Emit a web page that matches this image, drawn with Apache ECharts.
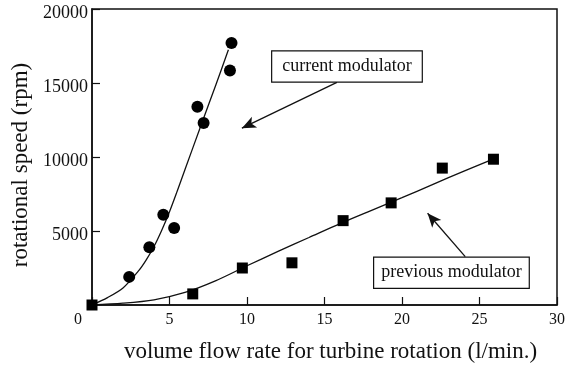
<!DOCTYPE html>
<html><head><meta charset="utf-8">
<script src="https://cdn.jsdelivr.net/npm/echarts@6/dist/echarts.min.js"></script>
<style>html,body{margin:0;padding:0;background:#fff}#c{width:568px;height:370px}</style>
</head><body><div id="c"></div>
<script>
// measured data
const currentX = [2.4, 3.7, 4.6, 5.3, 6.8, 7.2, 8.9, 9.0];
const currentY = [1900, 3900, 6100, 5200, 13400, 12300, 15850, 17700];
const previousX = [0, 6.5, 9.7, 12.9, 16.2, 19.3, 22.6, 25.9];
const previousY = [0, 750, 2500, 2850, 5700, 6900, 9250, 9850];
// fitted curves
const currentFitX = [0, 1, 2, 3, 3.5, 4, 4.5, 5, 5.5, 6, 7, 8, 8.8];
const currentFitY = [0, 500, 1150, 2300, 3050, 3950, 5050, 6300, 7700, 9150, 12050, 14900, 17250];
const previousFitX = [0, 2, 4, 6, 8, 10, 12, 14, 16, 18, 20, 22, 24, 25.8];
const previousFitY = [0, 120, 350, 850, 1650, 2650, 3620, 4560, 5500, 6380, 7250, 8150, 9050, 9820];
// annotations
const currentLabel = 'current modulator';
const previousLabel = 'previous modulator';
const currentLabelAt = [16.45, 16110];
const previousLabelAt = [23.19, 2180];
const currentArrow = [[15.8, 15040], [9.67, 11950]];
const previousArrow = [[24.08, 3270], [21.65, 6200]];

const FONT = '"Liberation Serif","Times New Roman",serif';
const INK = '#111';
const zip = (xs, ys) => xs.map((x, i) => [x, ys[i]]);

const chart = echarts.init(document.getElementById('c'), null, {renderer: 'canvas'});
const boxLabel = (txt, at, padX) => ({
  coord: at, symbol: 'rect', symbolSize: 1,
  itemStyle: {color: 'rgba(0,0,0,0)'},
  label: {show: true, position: 'inside', formatter: txt, fontFamily: FONT, fontSize: 18, color: INK,
    backgroundColor: '#fff', borderColor: INK, borderWidth: 1.2, padding: [7, padX, 5, padX]}
});
chart.setOption({
  animation: false,
  backgroundColor: '#fff',
  grid: {left: 92, right: 9, top: 9, bottom: 65, show: true, borderColor: INK, borderWidth: 1.5},
  xAxis: {
    type: 'value', min: 0, max: 30, interval: 5,
    name: 'volume flow rate for turbine rotation (l/min.)', nameLocation: 'middle', nameGap: 35,
    nameTextStyle: {fontFamily: FONT, fontSize: 23, color: INK, padding: [0, 0, 0, 12]},
    axisLine: {lineStyle: {color: INK, width: 1.5}},
    axisTick: {inside: true, length: 8, lineStyle: {color: INK, width: 1.2}},
    axisLabel: {fontFamily: FONT, fontSize: 16, color: INK, margin: 7,
      formatter: v => v === 0 ? '{z|0}' : String(v),
      rich: {z: {fontFamily: FONT, fontSize: 16, color: INK, padding: [0, 28, 0, 0]}}},
    splitLine: {show: false}
  },
  yAxis: {
    type: 'value', min: 0, max: 20000, interval: 5000,
    name: 'rotational speed (rpm)', nameLocation: 'middle', nameGap: 58,
    nameTextStyle: {fontFamily: FONT, fontSize: 23, color: INK, padding: [0, 16, 0, 0]},
    axisLine: {lineStyle: {color: INK, width: 1.5}},
    axisTick: {inside: true, length: 8, lineStyle: {color: INK, width: 1.2}},
    axisLabel: {fontFamily: FONT, fontSize: 18, color: INK, margin: 4, showMinLabel: false,
      formatter: v => String(v), verticalAlign: 'top', lineHeight: 8},
    splitLine: {show: false}
  },
  series: [
    {type: 'line', data: zip(currentFitX, currentFitY), smooth: 0.3, showSymbol: false,
      lineStyle: {color: INK, width: 1.3}, z: 2,
      markLine: {silent: true, symbol: ['none', 'arrow'], symbolSize: [9, 14],
        lineStyle: {color: INK, width: 1.3, type: 'solid'}, label: {show: false},
        data: [[{coord: currentArrow[0]}, {coord: currentArrow[1]}], [{coord: previousArrow[0]}, {coord: previousArrow[1]}]]},
      markPoint: {silent: true, data: [boxLabel(currentLabel, currentLabelAt, 10), boxLabel(previousLabel, previousLabelAt, 7)]}
    },
    {type: 'line', data: zip(previousFitX, previousFitY), smooth: 0.3, showSymbol: false,
      lineStyle: {color: INK, width: 1.3}, z: 2},
    {type: 'scatter', data: zip(currentX, currentY), symbol: 'circle', symbolSize: 12, clip: false,
      itemStyle: {color: '#000', opacity: 1}, z: 3},
    {type: 'scatter', data: zip(previousX, previousY), symbol: 'rect', symbolSize: 11, clip: false,
      itemStyle: {color: '#000', opacity: 1}, z: 3}
  ]
});
</script>
</body></html>
